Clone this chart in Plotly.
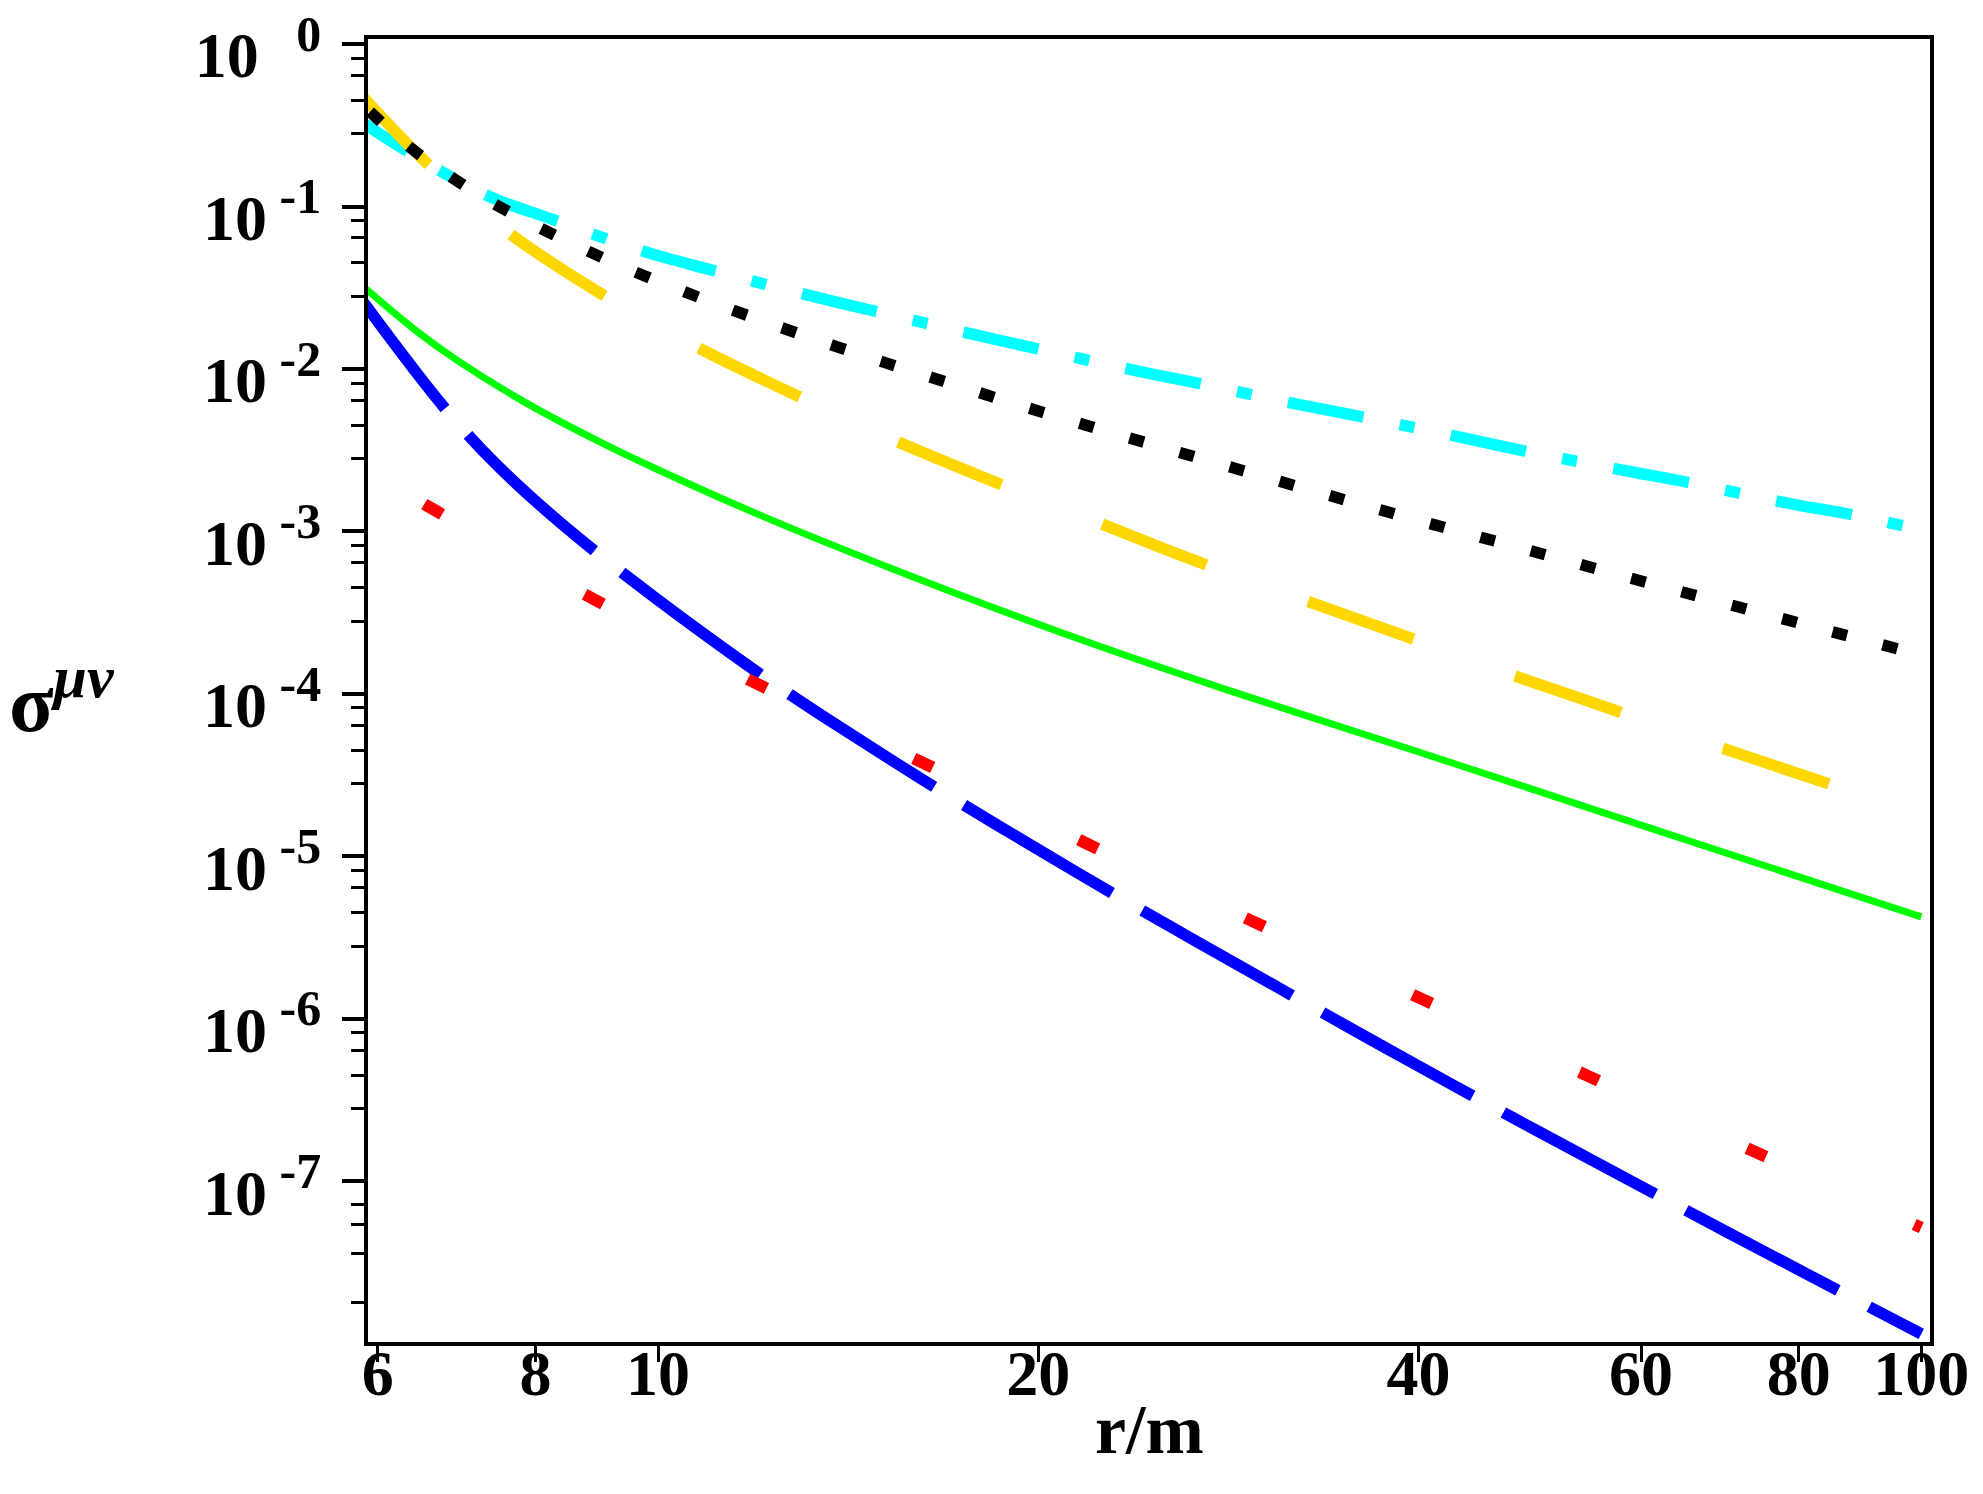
import math
import plotly.graph_objects as go

# ---- data (r/m  vs  sigma^{mu nu}) ----
cyan_r = [5.85, 6.33, 7.30, 8.27, 9.65, 11.0, 12.93, 14.77, 17.38, 19.89, 23.4, 26.8, 31.6,
          36.2, 42.7, 48.8, 57.6, 65.9, 77.8, 89.0, 100]
cyan_s = [0.325, 0.219, 0.118, 0.0829, 0.0542, 0.0408, 0.0294, 0.0229, 0.0170, 0.0134, 0.0101,
          0.00816, 0.00621, 0.00505, 0.00387, 0.00310, 0.00241, 0.00198, 0.00151, 0.00125, 0.00102]

gold_r = [5.85, 6.58, 7.59, 8.88, 10.5, 12.54, 15.1, 18.05, 21.8, 26.2, 31.8, 38.5, 46.4,
          56.3, 68.2, 82.7, 100]
gold_s = [0.466, 0.181, 0.0704, 0.0312, 0.0149, 0.00757, 0.00388, 0.00217, 0.00122, 0.000693,
          0.000401, 0.000236, 0.000139, 0.0000828, 0.000049, 0.0000296, 0.0000181]

black_r = [5.85, 6.36, 6.83, 7.36, 7.97, 8.66, 9.43, 10.28, 11.22, 12.27, 13.42, 14.68, 16.09,
           19.3, 23.2, 27.9, 33.5, 40.3, 48.6, 58.4, 70.4, 84.9, 100]
black_s = [0.415, 0.232, 0.1556, 0.1076, 0.0773, 0.0564, 0.0418, 0.0318, 0.0245, 0.0190, 0.0149,
           0.0118, 0.0094, 0.0060, 0.00392, 0.00259, 0.00172, 0.00115, 0.000777, 0.000525,
           0.000356, 0.000242, 0.000174]

green_r = [5.85, 6.44, 6.93, 7.88, 9.0, 10.04, 12.2, 15.18, 20.9, 27.9, 39.4, 47.7, 66.9, 100]
green_s = [0.0319, 0.0171, 0.01135, 0.00612, 0.00355, 0.002366, 0.001208, 0.000607, 0.000237,
           0.0001091, 0.0000457, 0.0000281, 0.0000118, 0.00000425]

blue_r = [5.85, 6.81, 7.57, 8.85, 11.94, 15.18, 17.3, 22.8, 31.9, 39.4, 47.5, 63.1, 84.0, 100]
blue_s = [0.02553, 0.005508, 0.002286, 0.000791, 0.000139, 0.0000408, 0.0000217, 0.00000605,
          0.00000137, 5.47e-7, 2.47e-7, 7.57e-8, 2.34e-8, 1.153e-8]

red_r = [5.85, 6.66, 8.88, 11.94, 16.2, 21.8, 29.6, 40.3, 54.6, 74.3, 100]
red_s = [2.45e-3, 1.35e-3, 3.86e-4, 1.17e-4, 3.78e-5, 1.21e-5, 3.97e-6, 1.32e-6, 4.42e-7,
         1.49e-7, 5.2e-8]

x_ticks = [6, 8, 10, 20, 40, 60, 80, 100]
x_ticktext = ["6", "8", "10", "20", "40", "60", "80", "100"]
y_exponents = [0, -1, -2, -3, -4, -5, -6, -7]
minor_factors = [0.82, 0.64, 0.45, 0.28]
minor_factors_last = [0.72, 0.54, 0.36, 0.18]

FONT = "Liberation Serif"
SUP = "<span style='font-size:50px'>%s</span>"

fig = go.Figure()

series = [
    (cyan_r, cyan_s, "#00FFFF", 11.5, "52px,37px,15px,37px,25px,0px"),
    (gold_r, gold_s, "#FFD700", 11.5, "93px,108px,19px,0px"),
    (black_r, black_s, "#000000", 11.5, "0px,8px,15px,29.1px"),
    (green_r, green_s, "#00FF00", 7, "solid"),
    (blue_r, blue_s, "#0000FF", 11.5, "133px,35px,39px,0px"),
    (red_r, red_s, "#FF0000", 12, "0px,70px,21px,93px"),
]
for xr, ys, col, w, dash in series:
    fig.add_trace(go.Scatter(x=xr, y=ys, mode="lines",
                             line=dict(color=col, width=w, dash=dash, shape="spline", smoothing=1.0),
                             showlegend=False, hoverinfo="skip"))

y_tickvals = [10.0 ** e for e in y_exponents]
y_ticktext = []
for e in y_exponents:
    if e == 0:
        y_ticktext.append("10<sup>" + SUP % "\u00a0\u00a0\u00a00" + "</sup>")
    else:
        y_ticktext.append("10<sup>" + SUP % ("\u00a0-%d" % (-e)) + "</sup>")

minor_vals = []
for e in range(0, -7, -1):
    for f in minor_factors:
        minor_vals.append(f * 10.0 ** e)
for f in minor_factors_last:
    minor_vals.append(f * 1e-7)

tickfont = dict(family=FONT, size=64, color="black", weight="bold")

fig.update_xaxes(type="log", range=[math.log10(5.894), math.log10(101.6)],
                 tickmode="array", tickvals=x_ticks, ticktext=x_ticktext,
                 ticks="outside", ticklen=16, tickwidth=3, tickcolor="black",
                 ticklabelstandoff=-44, automargin=False,
                 showline=True, linewidth=4, linecolor="black", mirror=True,
                 showgrid=False, zeroline=False, tickfont=tickfont)

fig.update_yaxes(type="log", range=[-7.988, 0.0308],
                 tickmode="array", tickvals=y_tickvals, ticktext=y_ticktext,
                 ticks="outside", ticklen=22, tickwidth=4, tickcolor="black",
                 ticklabelstandoff=8, ticklabelshift=11, ticklabeloverflow="allow",
                 automargin=False,
                 minor=dict(tickmode="array", tickvals=minor_vals, ticks="outside",
                            ticklen=13, tickwidth=3, tickcolor="black", showgrid=False),
                 showline=True, linewidth=4, linecolor="black", mirror=True,
                 showgrid=False, zeroline=False, tickfont=tickfont)

fig.add_annotation(text="<b>σ</b><sup><b><i><span style='font-size:60px'>μν</span></i></b></sup>",
                   xref="paper", yref="paper",
                   x=-0.2311, y=0.4954, xanchor="left", yanchor="middle", showarrow=False,
                   font=dict(family=FONT, size=82, color="black"))
fig.add_annotation(text="<b>r/m</b>", xref="paper", yref="paper",
                   x=0.5, y=-0.0668, xanchor="center", yanchor="middle", showarrow=False,
                   font=dict(family=FONT, size=70, color="black"))

fig.update_layout(width=1983, height=1494, autosize=False,
                  margin=dict(l=368, r=53, t=39, b=152, pad=0, autoexpand=False),
                  paper_bgcolor="white", plot_bgcolor="white")

fig.write_html("out.html")
